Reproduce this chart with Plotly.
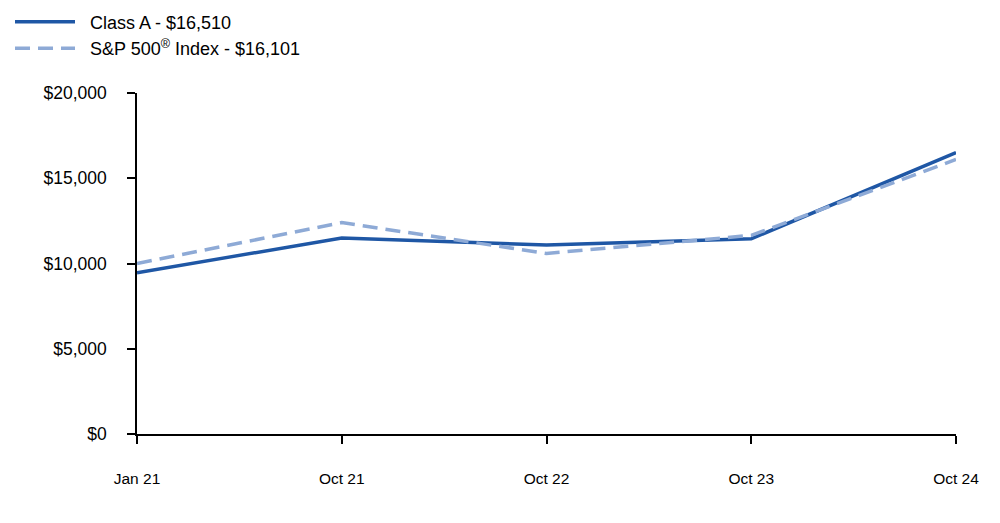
import plotly.graph_objects as go

categories = ["Jan 21", "Oct 21", "Oct 22", "Oct 23", "Oct 24"]
class_a = [9450, 11500, 11080, 11450, 16510]
sp500 = [10000, 12400, 10590, 11650, 16101]
y_ticks = [0, 5000, 10000, 15000, 20000]
y_tick_labels = ["$0", "$5,000", "$10,000", "$15,000", "$20,000"]

pad = "\u00a0\u00a0"

fig = go.Figure()
fig.add_trace(go.Scatter(
    x=categories, y=class_a, mode="lines",
    name=pad + "Class A - $16,510",
    line=dict(color="#1f57a5", width=3.5),
))
fig.add_trace(go.Scatter(
    x=categories, y=sp500, mode="lines",
    name=pad + "S&P 500<sup>®</sup> Index - $16,101",
    line=dict(color="#8eaad6", width=3.5, dash="15px,8px"),
))

fig.update_layout(
    width=1000, height=523,
    margin=dict(l=129, r=52, t=85, b=97, autoexpand=False),
    paper_bgcolor="white", plot_bgcolor="white",
    font=dict(family="Liberation Sans, Arial, sans-serif", color="#000000", size=16),
    showlegend=True,
    legend=dict(
        x=0.002, y=1.262, xref="container", yref="paper",
        xanchor="left", yanchor="top",
        font=dict(size=18), itemwidth=60,
        tracegroupgap=0, bgcolor="rgba(0,0,0,0)",
    ),
    xaxis=dict(
        type="category", range=[0, 4],
        showgrid=False, zeroline=False,
        showline=True, linecolor="#000000", linewidth=1.5,
        ticks="outside", ticklen=8, tickcolor="#000000", tickwidth=1.5,
        tickfont=dict(family="Liberation Sans, Arial", size=15.5),
        ticklabelstandoff=22,
    ),
    yaxis=dict(
        range=[0, 20000],
        tickvals=y_ticks, ticktext=y_tick_labels,
        showgrid=False, zeroline=False,
        showline=True, linecolor="#000000", linewidth=1.5,
        ticks="outside", ticklen=8, tickcolor="#000000", tickwidth=1.5,
        tickfont=dict(size=17.5),
        ticklabelstandoff=17,
    ),
)

fig.write_html("out.html")
